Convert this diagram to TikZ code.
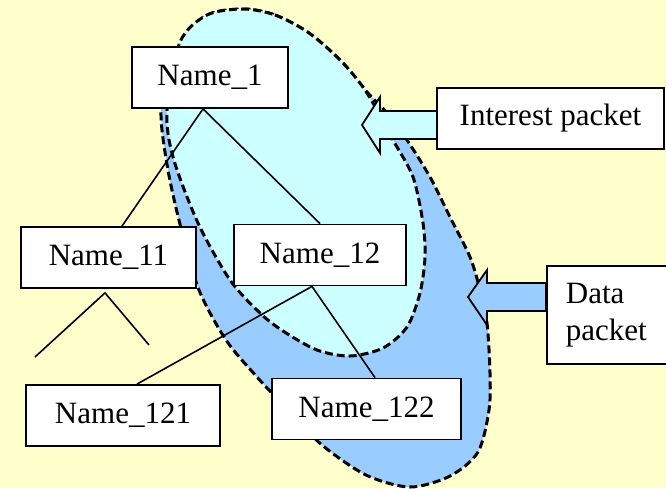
\documentclass[tikz,border=0pt]{standalone}
\usepackage{fontspec}
\setmainfont{Liberation Serif}
\usetikzlibrary{calc}
\definecolor{paleyellow}{HTML}{FFFFCC}
\definecolor{palecyan}{HTML}{CCFFFF}
\definecolor{skyblue}{HTML}{99CCFF}
\tikzset{
	namebox/.style={draw, line width=1.8pt, fill=white, minimum height=61pt, inner xsep=18pt, inner ysep=0pt, font=\fontsize{31}{37}\selectfont},
	cloudline/.style={line width=3pt, dash pattern=on 8pt off 4pt},
	link/.style={line width=1.6pt},
	packetarrow/.style={draw, line width=1.8pt, line join=miter},
}

\begin{document}
\begin{tikzpicture}[x=1pt, y=-1pt]
			%%%%% START %%%%%
			
			\useasboundingbox (0, 0) rectangle (666, 488);
			\clip (0, 0) rectangle (666, 488);
			\fill[paleyellow] (0, 0) rectangle (666, 488);
			
			% data region
			\draw[cloudline, fill=skyblue] plot[smooth cycle] coordinates {(243, 9) (275, 15) (309, 33) (342, 62) (367, 92) (388, 114) (407, 140) (430, 177) (450, 217) (470, 257) (480, 290) (487, 323) (490, 373) (489, 410) (478, 452) (450, 476) (410, 487) (366, 475) (322, 445) (288, 410) (257, 377) (226, 340) (199, 290) (181, 228) (168, 170) (161, 112) (171, 60) (204, 17)};
			
			% interest region
			\draw[cloudline, fill=palecyan] plot[smooth cycle] coordinates {(243, 9) (275, 15) (309, 33) (342, 62) (367, 93) (393, 140) (413, 177) (423, 223) (425, 257) (420, 293) (407, 327) (383, 348) (350, 356) (317, 350) (283, 331) (260, 313) (230, 280) (198, 223) (173, 157) (167, 110) (180, 42) (207, 15)};
			
			% arrows
			\draw[packetarrow, fill=palecyan] (362, 125) -- (380, 97) -- (380, 111) -- (437, 111) -- (437, 139) -- (380, 139) -- (380, 153) -- cycle;
			\draw[packetarrow, fill=skyblue] (468, 297) -- (487, 270) -- (487, 283) -- (546, 283) -- (546, 311) -- (487, 311) -- (487, 325) -- cycle;
			
			% boxes
			\node[namebox, minimum width=156pt] (n1) at (210, 77.5) {Name\_1};
			\node[namebox, minimum width=175pt] (n11) at (108.5, 257.5) {Name\_11};
			\node[namebox, minimum width=172pt] (n12) at (320, 255) {Name\_12};
			\node[namebox, minimum width=194pt] (n121) at (123, 415.5) {Name\_121};
			\node[namebox, minimum width=189pt] (n122) at (366.5, 409) {Name\_122};
			\node[namebox, minimum width=227pt] (ip) at (550.5, 118.5) {Interest packet};
			\node[namebox, anchor=north west, minimum height=98pt, text width=100pt, inner xsep=19pt, align=left] (dp) at (546, 265) {Data\\packet};
			
			% tree
			\coordinate (n11a) at (35, 357);
			\coordinate (n11b) at (149, 345);
			\draw[link] ([xshift=-7pt]n1.south) -- ([xshift=13.5pt]n11.north);
			\draw[link] ([xshift=-7pt]n1.south) -- (n12.north);
			\draw[link] (n11a) -- ([xshift=-3.5pt, yshift=-4pt]n11.south) -- (n11b);
			\draw[link] ([xshift=-8pt]n12.south) -- ([xshift=14pt]n121.north);
			\draw[link] ([xshift=-8pt]n12.south) -- ([xshift=8.5pt]n122.north);
			
			%%%%% END %%%%%
\end{tikzpicture}
\end{document}
